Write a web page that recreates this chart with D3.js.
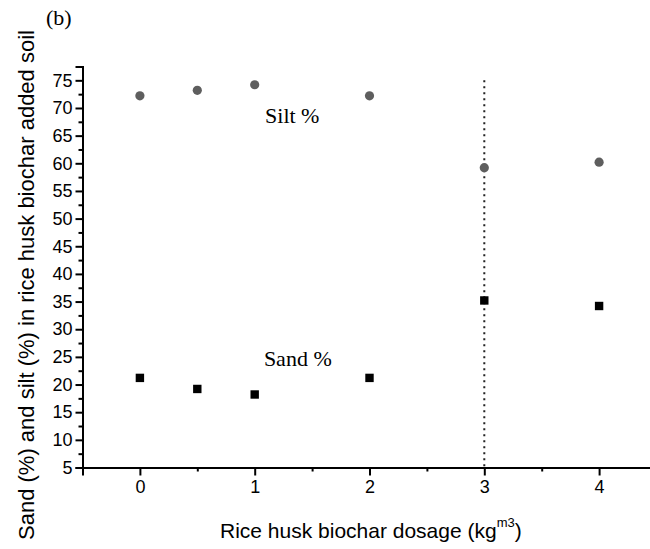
<!DOCTYPE html>
<html><head><meta charset="utf-8">
<script src="https://cdn.jsdelivr.net/npm/d3@7"></script>
<style>body{margin:0;background:#fff}svg{display:block}</style>
</head><body>
<svg id="c" width="650" height="549"></svg>
<script>
const dosage = [0, 0.5, 1, 2, 3, 4];
const silt = [72.2, 73.2, 74.2, 72.2, 59.2, 60.2];
const sand = [21.2, 19.2, 18.2, 21.2, 35.2, 34.2];
const xTicks = [0, 1, 2, 3, 4];
const yTicks = [5,10,15,20,25,30,35,40,45,50,55,60,65,70,75];
const markerLine = 3;

const svg = d3.select('#c');
const x = d3.scaleLinear().domain([-0.5, 4.5]).range([82.5, 656.5]);
const y = d3.scaleLinear().domain([5, 77.5]).range([467.5, 66.5]);
const sans = 'Liberation Sans, Arial, sans-serif';
const serif = 'Liberation Serif, Times New Roman, serif';

const gx = svg.append('g').attr('transform', `translate(0,${y(5)})`);
gx.call(d3.axisBottom(x).tickValues(d3.range(-0.5, 4.51, 0.5).filter(v => v % 1 !== 0)).tickSize(4).tickFormat(''));
const gx2 = svg.append('g').attr('transform', `translate(0,${y(5)})`);
gx2.call(d3.axisBottom(x).tickValues(xTicks).tickSize(8).tickPadding(5).tickFormat(d3.format('d')));
const gy = svg.append('g').attr('transform', `translate(${x(-0.5)},0)`);
gy.call(d3.axisLeft(y).tickValues(d3.range(7.5, 77.5, 5)).tickSize(4).tickFormat(''));
const gy2 = svg.append('g').attr('transform', `translate(${x(-0.5)},0)`);
gy2.call(d3.axisLeft(y).tickValues(yTicks).tickSize(7).tickPadding(3).tickFormat(d3.format('d')));
svg.selectAll('.domain').attr('stroke', '#000').attr('stroke-width', 2);
svg.selectAll('.tick line').attr('stroke', '#000').attr('stroke-width', 2);
svg.selectAll('.tick text').attr('font-family', sans).attr('font-size', 18).attr('fill', '#000');

svg.append('line')
  .attr('x1', x(markerLine)).attr('x2', x(markerLine))
  .attr('y1', y(75)).attr('y2', y(5))
  .attr('stroke', '#222').attr('stroke-width', 2).attr('stroke-dasharray', '2,4');

svg.selectAll('circle.silt').data(dosage).enter().append('circle')
  .attr('cx', d => x(d)).attr('cy', (d, i) => y(silt[i])).attr('r', 4.6)
  .attr('fill', '#5e5e5e');
svg.selectAll('rect.sand').data(dosage).enter().append('rect')
  .attr('x', d => x(d) - 4.2).attr('y', (d, i) => y(sand[i]) - 4.2)
  .attr('width', 8.4).attr('height', 8.4).attr('fill', '#000');

svg.append('text').attr('x', x(1.09)).attr('y', 123).text('Silt %')
  .attr('font-family', serif).attr('font-size', 22).attr('fill', '#000');
svg.append('text').attr('x', x(1.08)).attr('y', 366).text('Sand %')
  .attr('font-family', serif).attr('font-size', 22).attr('fill', '#000');
svg.append('text').attr('x', 46).attr('y', 25).text('(b)')
  .attr('font-family', serif).attr('font-size', 22).attr('fill', '#000');

const xt = svg.append('text').attr('x', 220).attr('y', 538)
  .attr('font-family', sans).attr('font-size', 21).attr('fill', '#000');
xt.append('tspan').text('Rice husk biochar dosage (kg');
xt.append('tspan').text('m3').attr('font-size', 13).attr('dy', -11);
xt.append('tspan').text(')').attr('dy', 11);

svg.append('text').attr('transform', 'translate(34,285) rotate(-90)')
  .attr('text-anchor', 'middle').attr('font-family', sans).attr('font-size', 22).attr('fill', '#000')
  .text('Sand (%) and silt (%) in rice husk biochar added soil');
</script>
</body></html>
